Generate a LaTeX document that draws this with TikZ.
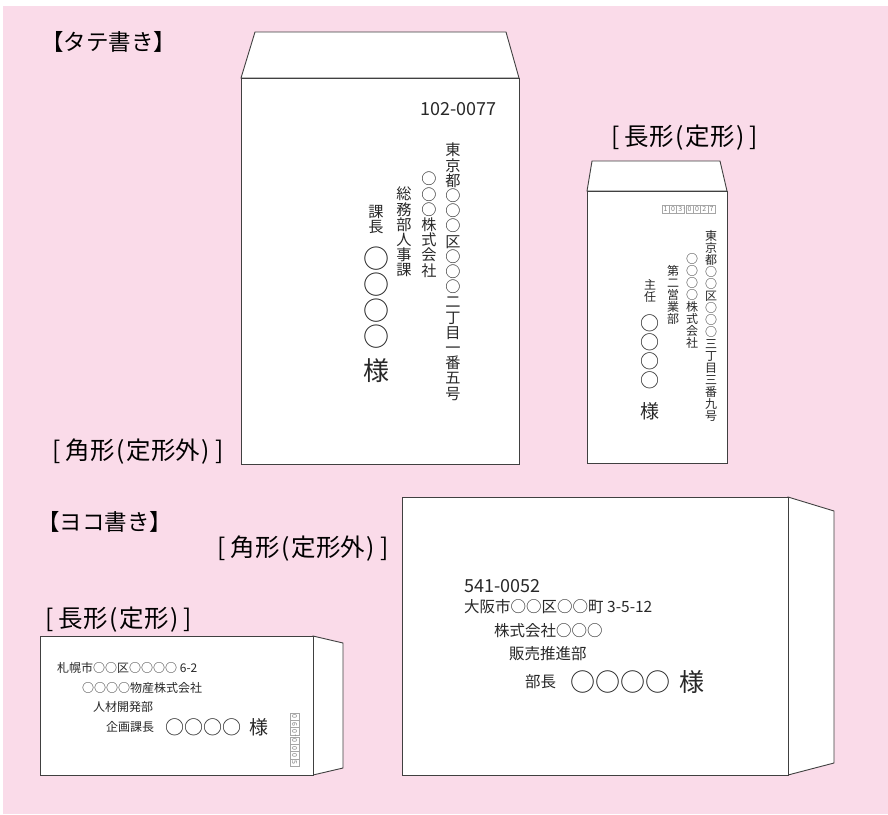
\documentclass[tikz,border=0pt]{standalone}
\usepackage{fontspec}
\setmainfont{Noto Sans CJK JP}
\definecolor{bgpink}{RGB}{250,219,233}
\definecolor{inkc}{RGB}{40,40,40}
\newcommand\envlbl[2]{[ #1\kern2pt(\kern1.5pt#2\kern1.5pt)\kern5pt]}
\begin{document}
\begin{tikzpicture}[x=1pt,y=-1pt,
  env/.style={draw=black!75, fill=white, line width=0.9pt},
  lbl/.style={anchor=west, inner sep=0, text=black, font=\fontsize{24.5}{24.5}\selectfont},
  hdr/.style={anchor=west, inner sep=0, text=black, font=\fontsize{22.5}{22.5}\selectfont},
  vcol/.style={anchor=north, inner sep=0, align=center, text=inkc},
  hln/.style={anchor=west, inner sep=0, text=inkc},
  pbox/.style={draw=black!35, text=black!50, minimum width=7.3pt, minimum height=8pt, inner sep=0, font=\fontsize{7}{7}\selectfont},
  phy/.style={inner sep=0, text=black!50, font=\fontsize{7}{7}\selectfont}]
\useasboundingbox (0,0) rectangle (888,814);
\fill[white] (0,0) rectangle (888,814);
\fill[bgpink] (3,6) rectangle (888,814);

% labels
\node[hdr] (tate) at (41,42) {【タテ書き】};
\node[hdr] (yoko) at (37,522) {【ヨコ書き】};
\node[lbl] (l1) at (52,452) {\envlbl{角形}{定形外}};
\node[lbl] (l2) at (611,138) {\envlbl{長形}{定形}};
\node[lbl] (l3) at (217,549) {\envlbl{角形}{定形外}};
\node[lbl] (l4) at (45,620) {\envlbl{長形}{定形}};

% big vertical envelope
\draw[env] (241,78) -- (255,32) -- (506,32) -- (519,78) -- cycle;
\draw[env] (241,78) rectangle (519,464);
\node[hln, font=\fontsize{18}{18}\selectfont] (k1zip) at (420,109) {102-0077};
\node[vcol, font=\fontsize{15.2}{15.2}\selectfont] (k1a) at (453,143) {東\\京\\都\\○\\○\\○\\区\\○\\○\\○\\二\\丁\\目\\一\\番\\五\\号};
\node[vcol, font=\fontsize{15.2}{15.2}\selectfont] (k1b) at (429,172) {○\\○\\○\\株\\式\\会\\社};
\node[vcol, font=\fontsize{15.2}{15.2}\selectfont] (k1c) at (404,187) {総\\務\\部\\人\\事\\課};
\node[vcol, font=\fontsize{15.2}{15.2}\selectfont] (k1d) at (376,205) {課\\長};
\node[vcol, font=\fontsize{26}{26}\selectfont] (k1e) at (376,247) {○\\○\\○\\○};
\node[vcol, font=\fontsize{26}{26}\selectfont] (k1f) at (376,358) {様};

% small vertical envelope
\draw[env] (587,191) -- (592,161) -- (720,161) -- (727,191) -- cycle;
\draw[env] (587,191) rectangle (727,463);
\foreach \d [count=\i] in {1,0,3}{\node[pbox] (pa\i) at ({662+7.3*(\i-0.5)},209) {\d};}
\node[phy] (pah) at (684.4,209) {-};
\foreach \d [count=\i] in {0,0,2,7}{\node[pbox] (pb\i) at ({686+7.3*(\i-0.5)},209) {\d};}
\node[vcol, font=\fontsize{12}{12}\selectfont] (n1a) at (711,230) {東\\京\\都\\○\\○\\区\\○\\○\\○\\三\\丁\\目\\三\\番\\九\\号};
\node[vcol, font=\fontsize{12}{12}\selectfont] (n1b) at (692,253) {○\\○\\○\\○\\株\\式\\会\\社};
\node[vcol, font=\fontsize{12}{12}\selectfont] (n1c) at (673,265) {第\\二\\営\\業\\部};
\node[vcol, font=\fontsize{12}{12}\selectfont] (n1d) at (650,279) {主\\任};
\node[vcol, font=\fontsize{19}{19}\selectfont] (n1e) at (650,315) {○\\○\\○\\○};
\node[vcol, font=\fontsize{19}{19}\selectfont] (n1f) at (650,402) {様};

% small horizontal envelope
\draw[env] (313,636) -- (343,643) -- (343,768) -- (313,775) -- cycle;
\draw[env] (40,636) rectangle (313,775);
\node[hln, font=\fontsize{12}{12}\selectfont] (n2a) at (57,668) {札幌市○○区○○○○ 6-2};
\node[hln, font=\fontsize{12}{12}\selectfont] (n2b) at (82,688) {○○○○物産株式会社};
\node[hln, font=\fontsize{12}{12}\selectfont] (n2c) at (93,707) {人材開発部};
\node[hln, font=\fontsize{12}{12}\selectfont] (n2d) at (106,727) {企画課長};
\node[hln, font=\fontsize{19}{19}\selectfont] (n2e) at (165,727) {○○○○};
\node[hln, font=\fontsize{19}{19}\selectfont] (n2f) at (249,727) {様};
\foreach \d [count=\i] in {0,6,0}{\node[pbox, rotate=-90, minimum height=9pt] (pc\i) at (294.5,{713+7.3*(\i-0.5)}) {\d};}
\node[phy, rotate=-90] (pch) at (294.5,735.4) {-};
\foreach \d [count=\i] in {0,0,0,5}{\node[pbox, rotate=-90, minimum height=9pt] (pd\i) at (294.5,{737+7.3*(\i-0.5)}) {\d};}

% big horizontal envelope
\draw[env] (788,497) -- (834,511) -- (834,763) -- (788,775) -- cycle;
\draw[env] (402,497) rectangle (788,775);
\node[hln, font=\fontsize{18}{18}\selectfont] (k2a) at (464,586) {541-0052};
\node[hln, font=\fontsize{15.5}{15.5}\selectfont] (k2b) at (464,607) {大阪市○○区○○町 3-5-12};
\node[hln, font=\fontsize{15.5}{15.5}\selectfont] (k2c) at (494,631) {株式会社○○○};
\node[hln, font=\fontsize{15.5}{15.5}\selectfont] (k2d) at (509,654) {販売推進部};
\node[hln, font=\fontsize{15.5}{15.5}\selectfont] (k2e) at (525,682) {部長};
\node[hln, font=\fontsize{25}{25}\selectfont] (k2f) at (570,682) {○○○○};
\node[hln, font=\fontsize{25}{25}\selectfont] (k2g) at (679,682) {様};
\end{tikzpicture}
\end{document}
